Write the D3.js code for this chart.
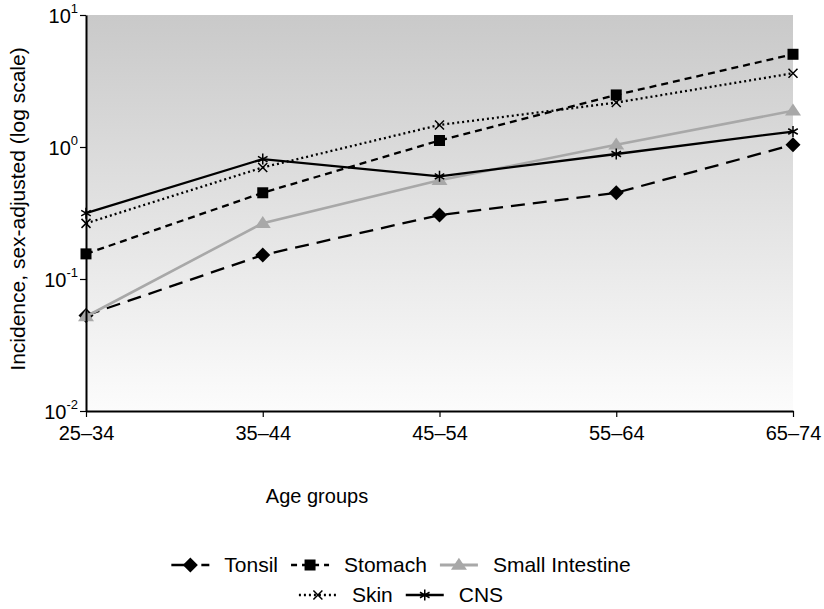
<!DOCTYPE html>
<html>
<head>
<meta charset="utf-8">
<script src="https://cdn.jsdelivr.net/npm/d3@7"></script>
<style>
  html, body { margin: 0; padding: 0; background: #fff; }
  svg { display: block; font-family: "Liberation Sans", Arial, Helvetica, sans-serif; }
</style>
</head>
<body>
<svg id="chart" width="824" height="609"></svg>
<script>
// ---- Data ----
const categories = ["25–34", "35–44", "45–54", "55–64", "65–74"];
const tonsil = [0.053, 0.152, 0.305, 0.45, 1.04];
const stomach = [0.155, 0.45, 1.12, 2.48, 5.04];
const smallIntestine = [0.052, 0.265, 0.56, 1.04, 1.88];
const skin = [0.264, 0.70, 1.47, 2.17, 3.62];
const cns = [0.315, 0.81, 0.60, 0.885, 1.31];
const seriesNames = ["Tonsil", "Stomach", "Small Intestine", "Skin", "CNS"];
const yTickValues = [0.01, 0.1, 1, 10];
const yTickExponents = ["-2", "-1", "0", "1"];
const yAxisTitle = "Incidence, sex-adjusted (log scale)";
const xAxisTitle = "Age groups";

const seriesValues = [tonsil, stomach, smallIntestine, skin, cns];
const styles = [
  { color: "#000", width: 2.3, dash: "14,8", marker: "diamond", legendDash: "18,12,8,100" },
  { color: "#000", width: 2.3, dash: "7,5", marker: "square", legendDash: "6,5" },
  { color: "#a8a8a8", width: 2.6, dash: null, marker: "triangle", legendDash: null },
  { color: "#000", width: 2.3, dash: "2,3", marker: "x", legendDash: "2,3" },
  { color: "#000", width: 2.3, dash: null, marker: "asterisk", legendDash: null }
];

const svg = d3.select("#chart");
const M = { left: 86, right: 793, top: 15, bottom: 411 };

const x = d3.scalePoint().domain(categories).range([M.left, M.right]);
const y = d3.scaleLog().domain([0.01, 10]).range([M.bottom, M.top]);

// Background gradient
const defs = svg.append("defs");
const grad = defs.append("linearGradient").attr("id", "bg").attr("x1", 0).attr("y1", 0).attr("x2", 0).attr("y2", 1);
grad.append("stop").attr("offset", "0%").attr("stop-color", "#c9c9c9");
grad.append("stop").attr("offset", "100%").attr("stop-color", "#fcfcfc");
svg.append("rect").attr("x", M.left).attr("y", M.top).attr("width", M.right - M.left).attr("height", M.bottom - M.top).attr("fill", "url(#bg)");

// Marker paths
function markerPath(type, cx, cy) {
  const p = d3.path();
  if (type === "diamond") {
    const r = 7.5;
    p.moveTo(cx, cy - r); p.lineTo(cx + r, cy); p.lineTo(cx, cy + r); p.lineTo(cx - r, cy); p.closePath();
  } else if (type === "square") {
    const r = 5.5;
    p.rect(cx - r, cy - r, 2 * r, 2 * r);
  } else if (type === "triangle") {
    const w = 8, h = 12;
    p.moveTo(cx, cy - h * 0.6); p.lineTo(cx + w, cy + h * 0.4); p.lineTo(cx - w, cy + h * 0.4); p.closePath();
  } else if (type === "x") {
    const r = 4.5;
    p.moveTo(cx - r, cy - r); p.lineTo(cx + r, cy + r); p.moveTo(cx - r, cy + r); p.lineTo(cx + r, cy - r);
  } else if (type === "asterisk") {
    const r = 5.5;
    p.moveTo(cx, cy - r); p.lineTo(cx, cy + r);
    p.moveTo(cx - r * 0.87, cy - r * 0.5); p.lineTo(cx + r * 0.87, cy + r * 0.5);
    p.moveTo(cx - r * 0.87, cy + r * 0.5); p.lineTo(cx + r * 0.87, cy - r * 0.5);
  }
  return p.toString();
}
function drawMarker(g, type, cx, cy, color) {
  const filled = (type === "diamond" || type === "square" || type === "triangle");
  g.append("path").attr("d", markerPath(type, cx, cy))
    .attr("fill", filled ? color : "none")
    .attr("stroke", color)
    .attr("stroke-width", filled ? 0 : 1.5);
}

// Lines
const line = d3.line().x((d, i) => x(categories[i])).y(d => y(d));
const plot = svg.append("g");
seriesValues.forEach((vals, si) => {
  const st = styles[si];
  const g = plot.append("g");
  g.append("path").datum(vals).attr("d", line)
    .attr("fill", "none").attr("stroke", st.color).attr("stroke-width", st.width)
    .attr("stroke-dasharray", st.dash);
  vals.forEach((v, i) => drawMarker(g, st.marker, x(categories[i]), y(v), st.color));
});

// Axes
const yAxis = svg.append("g").attr("transform", `translate(${M.left},0)`)
  .call(d3.axisLeft(y).tickValues(yTickValues).tickSize(6).tickSizeOuter(0).tickFormat(() => ""));
yAxis.select(".domain").attr("stroke", "#000").attr("stroke-width", 2);
yAxis.selectAll(".tick line").attr("stroke", "#000").attr("stroke-width", 1.2);
yAxis.selectAll(".tick text").each(function (d, i) {
  const t = d3.select(this);
  t.text(null).attr("x", -8).attr("dy", "0.35em").attr("font-size", 20).attr("fill", "#000").attr("text-anchor", "end");
  t.append("tspan").text("10");
  t.append("tspan").text(yTickExponents[i]).attr("font-size", 13).attr("dy", "-0.7em");
});

const xAxis = svg.append("g").attr("transform", `translate(0,${M.bottom})`)
  .call(d3.axisBottom(x).tickSize(6).tickSizeOuter(0));
xAxis.select(".domain").attr("stroke", "#000").attr("stroke-width", 2);
xAxis.selectAll(".tick line").attr("stroke", "#000").attr("stroke-width", 1.2);
xAxis.selectAll(".tick text").attr("font-size", 20).attr("fill", "#000").attr("dy", "1.05em").attr("y", 8);

// Axis titles
svg.append("text").attr("transform", `translate(25,${(M.top + M.bottom) / 2 - 4}) rotate(-90)`)
  .attr("text-anchor", "middle").attr("font-size", 21).attr("fill", "#000").text(yAxisTitle);
svg.append("text").attr("x", 317).attr("y", 503).attr("text-anchor", "middle")
  .attr("font-size", 20).attr("fill", "#000").text(xAxisTitle);

// Legend
const legendRows = [[0, 1, 2], [3, 4]];
const rowY = [565, 595];
const symW = 38, gapSymText = 15, gapItems = 13, centerX = 401;
legendRows.forEach((row, ri) => {
  const g = svg.append("g");
  let cx = 0;
  row.forEach((si) => {
    const st = styles[si];
    const item = g.append("g").attr("transform", `translate(${cx},0)`);
    item.append("line").attr("x1", 0).attr("x2", symW).attr("y1", rowY[ri]).attr("y2", rowY[ri])
      .attr("stroke", st.color).attr("stroke-width", st.width + 0.4).attr("stroke-dasharray", st.legendDash);
    drawMarker(item, st.marker, si === 0 ? 19 : symW / 2, rowY[ri], st.color);
    const t = item.append("text").attr("x", symW + gapSymText).attr("y", rowY[ri] + 7)
      .attr("font-size", 21).attr("fill", "#000").text(seriesNames[si]);
    cx += symW + gapSymText + t.node().getComputedTextLength() + gapItems;
  });
  const total = cx - gapItems;
  g.attr("transform", `translate(${centerX - total / 2},0)`);
});
</script>
</body>
</html>
